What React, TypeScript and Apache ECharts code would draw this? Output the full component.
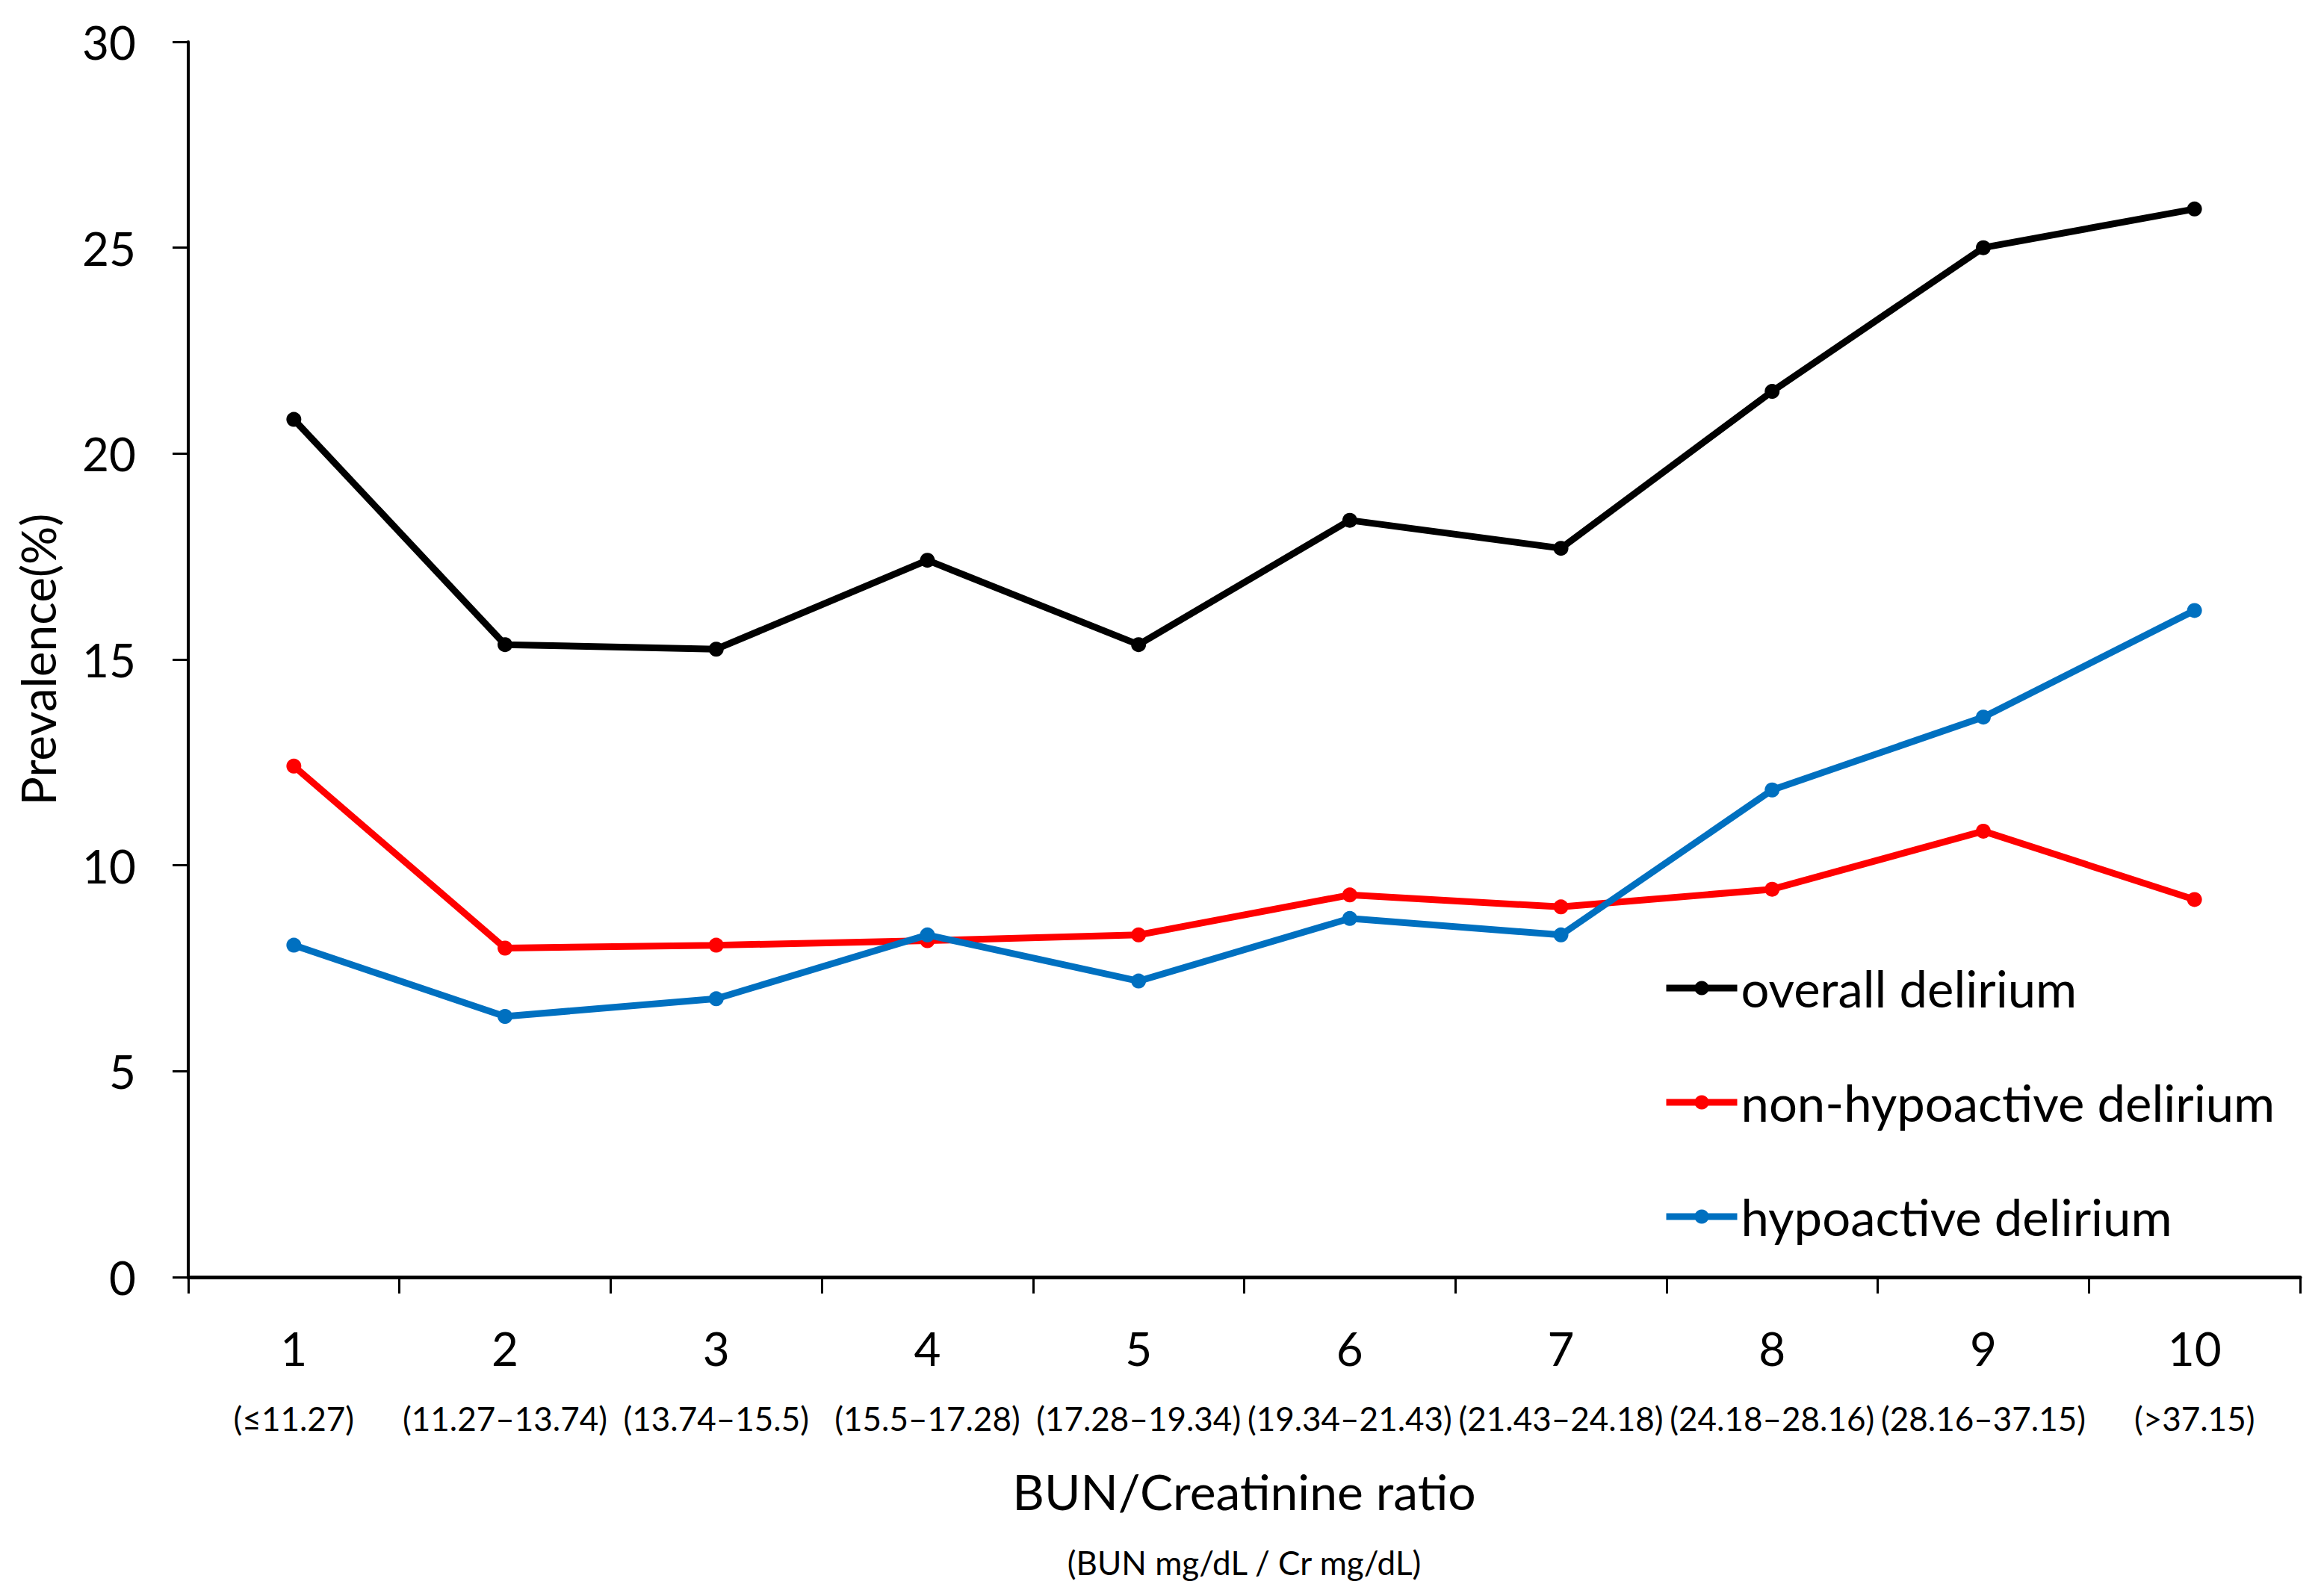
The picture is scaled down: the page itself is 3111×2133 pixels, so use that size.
import React, { useEffect, useRef } from "react";
import * as echarts from "echarts";

const categories = ["1", "2", "3", "4", "5", "6", "7", "8", "9", "10"];
const ranges = [
  "(≤11.27)",
  "(11.27–13.74)",
  "(13.74–15.5)",
  "(15.5–17.28)",
  "(17.28–19.34)",
  "(19.34–21.43)",
  "(21.43–24.18)",
  "(24.18–28.16)",
  "(28.16–37.15)",
  "(>37.15)",
];
const overall = [20.83, 15.36, 15.25, 17.41, 15.36, 18.38, 17.7, 21.51, 25.0, 25.94];
const nonHypoactive = [12.41, 7.99, 8.06, 8.17, 8.31, 9.28, 8.99, 9.42, 10.83, 9.17];
const hypoactive = [8.06, 6.33, 6.76, 8.31, 7.19, 8.71, 8.31, 11.83, 13.6, 16.19];
const yTicks = [0, 5, 10, 15, 20, 25, 30];

const seriesNames = ["overall delirium", "non-hypoactive delirium", "hypoactive delirium"];
const seriesColors = ["#000000", "#FF0000", "#0070C0"];
const seriesData = [overall, nonHypoactive, hypoactive];

const FONT = "Lato";

export default function App() {
  const ref = useRef<HTMLDivElement>(null);
  useEffect(() => {
    document.body.style.margin = "0";
    if (!ref.current) return;
    const chart = echarts.init(ref.current, null, { renderer: "svg" });
    const legendCenters = [1323, 1476, 1629];
    chart.setOption({
      animation: false,
      backgroundColor: "#ffffff",
      textStyle: { fontFamily: FONT },
      grid: { left: 252, top: 56, right: 32, bottom: 423, containLabel: false },
      legend: seriesNames.map((n, i) => ({
        data: [n],
        orient: "vertical",
        left: 2226,
        top: legendCenters[i] - 40,
        padding: 0,
        itemWidth: 95,
        itemHeight: 24,
        itemGap: 0,
        selectedMode: false,
        lineStyle: { width: 9 },
        textStyle: { fontFamily: FONT, fontSize: 67, lineHeight: 80, color: "#000" },
      })),
      xAxis: {
        type: "category",
        data: categories,
        boundaryGap: true,
        name: "{t|BUN/Creatinine ratio}\n{s|(BUN mg/dL / Cr mg/dL)}",
        nameLocation: "middle",
        nameGap: 238,
        nameTextStyle: {
          color: "#000",
          rich: {
            t: { fontFamily: FONT, fontSize: 66, lineHeight: 96, color: "#000" },
            s: { fontFamily: FONT, fontSize: 44, lineHeight: 96, color: "#000" },
          },
        },
        axisLine: { show: true, lineStyle: { color: "#000", width: 5 } },
        axisTick: { show: true, length: 22, lineStyle: { color: "#000", width: 3 } },
        axisLabel: {
          interval: 0,
          margin: 48,
          formatter: (v: string, idx: number) => `{a|${v}}\n{b|${ranges[idx]}}`,
          rich: {
            a: { fontFamily: FONT, fontSize: 62, lineHeight: 94, color: "#000" },
            b: { fontFamily: FONT, fontSize: 44, lineHeight: 94, color: "#000" },
          },
        },
        splitLine: { show: false },
      },
      yAxis: {
        type: "value",
        min: yTicks[0],
        max: yTicks[yTicks.length - 1],
        interval: 5,
        name: "Prevalence(%)",
        nameLocation: "middle",
        nameGap: 170,
        nameTextStyle: { fontFamily: FONT, fontSize: 64, color: "#000" },
        axisLine: { show: true, lineStyle: { color: "#000", width: 4 } },
        axisTick: { show: true, length: 21, lineStyle: { color: "#000", width: 3 } },
        axisLabel: { margin: 70, fontFamily: FONT, fontSize: 62, color: "#000" },
        splitLine: { show: false },
      },
      series: seriesNames.map((n, i) => ({
        name: n,
        type: "line",
        data: seriesData[i],
        symbol: "circle",
        symbolSize: 20,
        showSymbol: true,
        lineStyle: { color: seriesColors[i], width: 9 },
        itemStyle: { color: seriesColors[i] },
        z: 2 + i,
      })),
    });
    return () => chart.dispose();
  }, []);
  return <div ref={ref} style={{ width: 3111, height: 2133 }} />;
}
